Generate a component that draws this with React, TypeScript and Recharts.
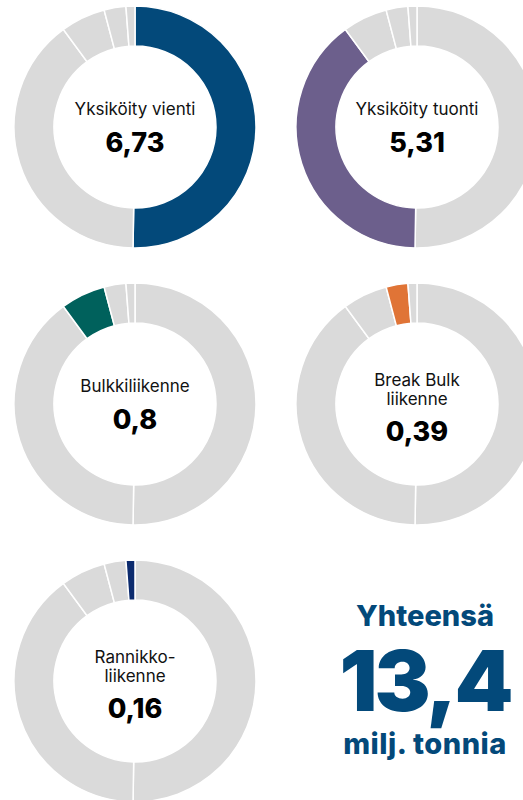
import { PieChart, Pie, Cell } from "recharts";

const CATEGORIES = [
  "Yksiköity vienti",
  "Yksiköity tuonti",
  "Bulkkiliikenne",
  "Break Bulk liikenne",
  "Rannikkoliikenne",
];
const VALUES = [6.73, 5.31, 0.8, 0.39, 0.16];
const LABELS = [
  ["Yksiköity vienti"],
  ["Yksiköity tuonti"],
  ["Bulkkiliikenne"],
  ["Break Bulk", "liikenne"],
  ["Rannikko-", "liikenne"],
];
const VALUE_TEXT = ["6,73", "5,31", "0,8", "0,39", "0,16"];
const COLORS = ["#03497a", "#6c5f8c", "#00615c", "#e07436", "#0c2b6e"];
const GREY = "#dadada";

const TOTAL_TEXT = "13,4";

const FONT = "Inter, 'Noto Sans', sans-serif";

// centers of each donut on the page
const POS = [
  { x: 135, y: 127 },
  { x: 417, y: 127 },
  { x: 135, y: 404 },
  { x: 417, y: 404 },
  { x: 135, y: 681 },
];

const SIZE = 250;

const data = CATEGORIES.map((name, i) => ({ name, value: VALUES[i] }));

function Line({
  text,
  cy,
  size,
  weight,
  lh,
  color,
}: {
  text: string;
  cy: number;
  size: number;
  weight: number;
  lh: number;
  color: string;
}) {
  return (
    <div
      style={{
        position: "absolute",
        left: 0,
        width: SIZE,
        top: cy - lh / 2,
        height: lh,
        lineHeight: `${lh}px`,
        textAlign: "center",
        fontFamily: FONT,
        fontSize: size,
        fontWeight: weight,
        color,
        whiteSpace: "nowrap",
      }}
    >
      {text}
    </div>
  );
}

function Donut({ idx }: { idx: number }) {
  const p = POS[idx];
  const lines = LABELS[idx];
  const c = SIZE / 2;
  const labelY = lines.length === 1 ? [c - 18] : [c - 24, c - 5];
  const numY = lines.length === 1 ? c + 16 : c + 28;
  return (
    <div
      style={{
        position: "absolute",
        left: p.x - SIZE / 2,
        top: p.y - SIZE / 2,
        width: SIZE,
        height: SIZE,
      }}
    >
      <PieChart width={SIZE} height={SIZE}>
        <Pie
          data={data}
          dataKey="value"
          nameKey="name"
          cx="50%"
          cy="50%"
          innerRadius={81}
          outerRadius={121}
          startAngle={90}
          endAngle={-270}
          isAnimationActive={false}
        >
          {data.map((_, i) => (
            <Cell
              key={`cell-${i}`}
              fill={i === idx ? COLORS[idx] : GREY}
              stroke="#ffffff"
              strokeWidth={1.5}
            />
          ))}
        </Pie>
      </PieChart>
      {lines.map((l, i) => (
        <Line key={l} text={l} cy={labelY[i]} size={17} weight={400} lh={20} color="#111" />
      ))}
      <Line text={VALUE_TEXT[idx]} cy={numY} size={27} weight={800} lh={30} color="#000" />
    </div>
  );
}

export default function App() {
  const total = { left: 322, width: 206 };
  const tStyle = {
    position: "absolute" as const,
    left: total.left,
    width: total.width,
    textAlign: "center" as const,
    fontFamily: FONT,
    color: "#03497a",
    fontWeight: 800,
    whiteSpace: "nowrap" as const,
  };
  return (
    <div
      style={{
        position: "fixed",
        left: 0,
        top: 0,
        width: 523,
        height: 800,
        overflow: "hidden",
        background: "#ffffff",
      }}
    >
      {CATEGORIES.map((_, i) => (
        <Donut key={i} idx={i} />
      ))}
      <div style={{ ...tStyle, top: 600, fontSize: 29, lineHeight: "32px" }}>Yhteensä</div>
      <div
        style={{
          ...tStyle,
          top: 642,
          height: 78,
          fontSize: 84,
          lineHeight: "78px",
          fontWeight: 900,
          letterSpacing: -3,
        }}
      >
        {TOTAL_TEXT}
      </div>
      <div style={{ ...tStyle, top: 729, fontSize: 29, lineHeight: "30px", letterSpacing: 0.5 }}>
        milj. tonnia
      </div>
    </div>
  );
}
